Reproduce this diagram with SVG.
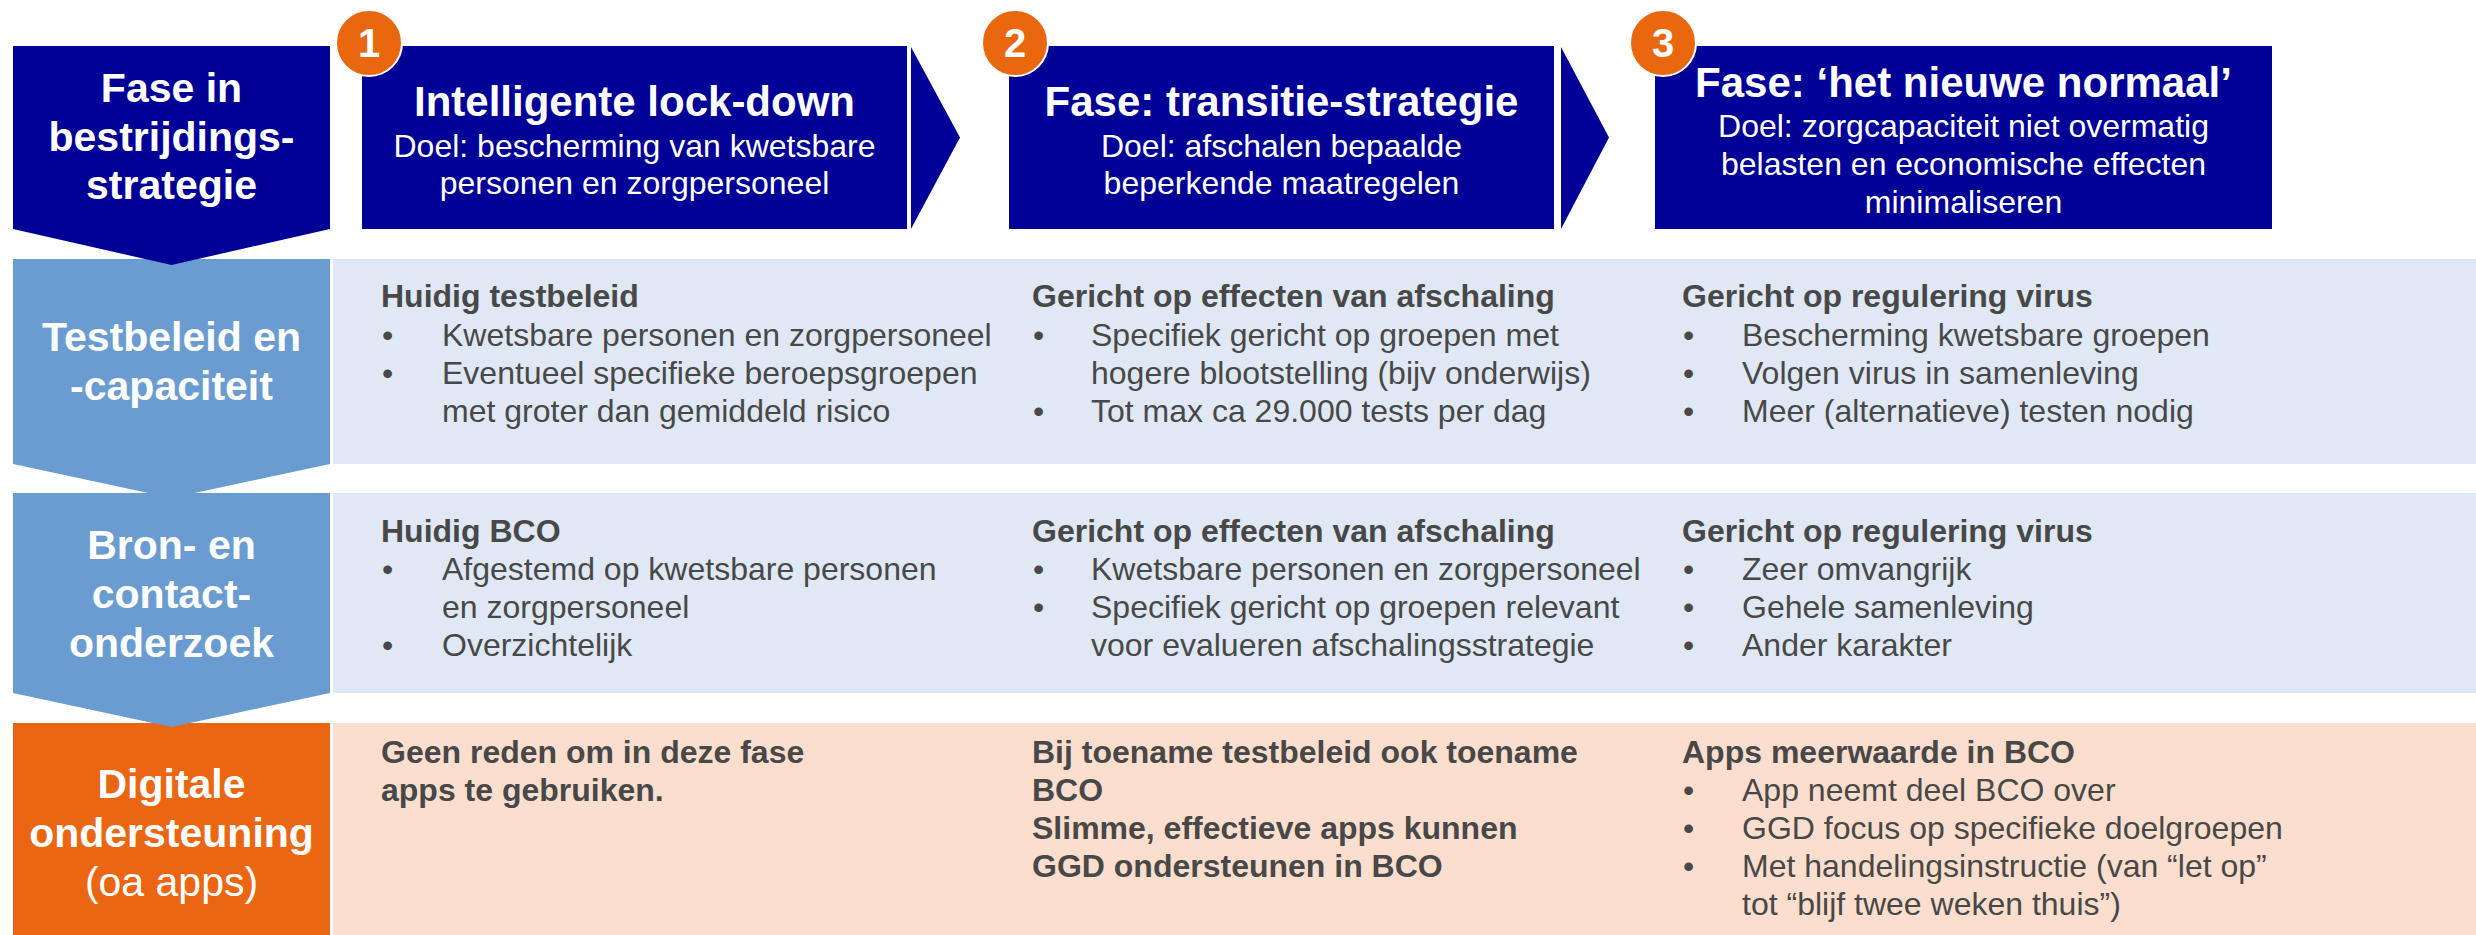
<svg xmlns="http://www.w3.org/2000/svg" width="2476" height="935" viewBox="0 0 2476 935">
<style>
.navy{fill:#000096}
.lab{fill:#6A9CD2}
.light{fill:#DFE8F4}
.org{fill:#EB6612}
.peach{fill:#FBDECD}
.circ{fill:#E8670F;stroke:#FFFFFF;stroke-width:2}
text{font-family:"Liberation Sans",Arial,sans-serif}
.lbl{fill:#FFFFFF;font-size:41px;font-weight:bold;text-anchor:middle}
.lblr{fill:#FFFFFF;font-size:41px;text-anchor:middle}
.num{fill:#FFFFFF;font-size:40px;font-weight:bold;text-anchor:middle}
.ttl{fill:#FFFFFF;font-size:42px;font-weight:bold;text-anchor:middle}
.sub{fill:#FFFFFF;font-size:32px;text-anchor:middle}
.h{fill:#484848;font-size:32px;font-weight:bold}
.t{fill:#484848;font-size:32px}
</style>
<rect width="2476" height="935" fill="#FFFFFF"/>

<!-- Row 1 -->
<g id="row-testbeleid">
<rect class="light" x="333" y="259" width="2143" height="205"/>
<polygon class="lab" points="13,259 330,259 330,464 171.5,498 13,464"/>
<text class="lbl" x="171.5" y="351">Testbeleid en</text>
<text class="lbl" x="171.5" y="400">-capaciteit</text>
<text class="h" x="381" y="307">Huidig testbeleid</text>
<text class="t" x="382" y="346">•</text><text class="t" x="442" y="346">Kwetsbare personen en zorgpersoneel</text>
<text class="t" x="382" y="384">•</text><text class="t" x="442" y="384">Eventueel specifieke beroepsgroepen</text>
<text class="t" x="442" y="422">met groter dan gemiddeld risico</text>
<text class="h" x="1032" y="307">Gericht op effecten van afschaling</text>
<text class="t" x="1033" y="346">•</text><text class="t" x="1091" y="346">Specifiek gericht op groepen met</text>
<text class="t" x="1091" y="384">hogere blootstelling (bijv onderwijs)</text>
<text class="t" x="1033" y="422">•</text><text class="t" x="1091" y="422">Tot max ca 29.000 tests per dag</text>
<text class="h" x="1682" y="307">Gericht op regulering virus</text>
<text class="t" x="1683" y="346">•</text><text class="t" x="1742" y="346">Bescherming kwetsbare groepen</text>
<text class="t" x="1683" y="384">•</text><text class="t" x="1742" y="384">Volgen virus in samenleving</text>
<text class="t" x="1683" y="422">•</text><text class="t" x="1742" y="422">Meer (alternatieve) testen nodig</text>
</g>

<!-- Row 3 -->
<g id="row-digitaal">
<rect class="peach" x="333" y="723" width="2143" height="212"/>
<rect class="org" x="13" y="723" width="317" height="212"/>
<text class="lbl" x="171.5" y="798">Digitale</text>
<text class="lbl" x="171.5" y="847">ondersteuning</text>
<text class="lblr" x="171.5" y="896">(oa apps)</text>
<text class="h" x="381" y="763">Geen reden om in deze fase</text>
<text class="h" x="381" y="801">apps te gebruiken.</text>
<text class="h" x="1032" y="763">Bij toename testbeleid ook toename</text>
<text class="h" x="1032" y="801">BCO</text>
<text class="h" x="1032" y="839">Slimme, effectieve apps kunnen</text>
<text class="h" x="1032" y="877">GGD ondersteunen in BCO</text>
<text class="h" x="1682" y="763">Apps meerwaarde in BCO</text>
<text class="t" x="1683" y="801">•</text><text class="t" x="1742" y="801">App neemt deel BCO over</text>
<text class="t" x="1683" y="839">•</text><text class="t" x="1742" y="839">GGD focus op specifieke doelgroepen</text>
<text class="t" x="1683" y="877">•</text><text class="t" x="1742" y="877">Met handelingsinstructie (van “let op”</text>
<text class="t" x="1742" y="915">tot “blijf twee weken thuis”)</text>
</g>

<!-- Row 2 -->
<g id="row-bco">
<rect class="light" x="333" y="493" width="2143" height="200"/>
<polygon class="lab" points="13,493 330,493 330,693 171.5,727 13,693"/>
<text class="lbl" x="171.5" y="559">Bron- en</text>
<text class="lbl" x="171.5" y="608">contact-</text>
<text class="lbl" x="171.5" y="657">onderzoek</text>
<text class="h" x="381" y="542">Huidig BCO</text>
<text class="t" x="382" y="580">•</text><text class="t" x="442" y="580">Afgestemd op kwetsbare personen</text>
<text class="t" x="442" y="618">en zorgpersoneel</text>
<text class="t" x="382" y="656">•</text><text class="t" x="442" y="656">Overzichtelijk</text>
<text class="h" x="1032" y="542">Gericht op effecten van afschaling</text>
<text class="t" x="1033" y="580">•</text><text class="t" x="1091" y="580">Kwetsbare personen en zorgpersoneel</text>
<text class="t" x="1033" y="618">•</text><text class="t" x="1091" y="618">Specifiek gericht op groepen relevant</text>
<text class="t" x="1091" y="656">voor evalueren afschalingsstrategie</text>
<text class="h" x="1682" y="542">Gericht op regulering virus</text>
<text class="t" x="1683" y="580">•</text><text class="t" x="1742" y="580">Zeer omvangrijk</text>
<text class="t" x="1683" y="618">•</text><text class="t" x="1742" y="618">Gehele samenleving</text>
<text class="t" x="1683" y="656">•</text><text class="t" x="1742" y="656">Ander karakter</text>
</g>

<!-- Header -->
<g id="fase-header">
<polygon class="navy" points="13,46 330,46 330,229 171.5,265 13,229"/>
<text class="lbl" x="171.5" y="102">Fase in</text>
<text class="lbl" x="171.5" y="151">bestrijdings-</text>
<text class="lbl" x="171.5" y="199">strategie</text>
</g>

<g id="connectors">
<polygon class="navy" points="911,47 960,137.5 911,229"/>
<polygon class="navy" points="1561,47 1609,137.5 1561,229"/>
</g>

<g id="fase-1">
<rect class="navy" x="362" y="46" width="545" height="183"/>
<text class="ttl" x="634.5" y="116">Intelligente lock-down</text>
<text class="sub" x="634.5" y="157">Doel: bescherming van kwetsbare</text>
<text class="sub" x="634.5" y="194">personen en zorgpersoneel</text>
<circle class="circ" cx="369" cy="43" r="33"/>
<text class="num" x="369" y="57">1</text>
</g>

<g id="fase-2">
<rect class="navy" x="1009" y="46" width="545" height="183"/>
<text class="ttl" x="1281.5" y="116">Fase: transitie-strategie</text>
<text class="sub" x="1281.5" y="157">Doel: afschalen bepaalde</text>
<text class="sub" x="1281.5" y="194">beperkende maatregelen</text>
<circle class="circ" cx="1015" cy="43" r="33"/>
<text class="num" x="1015" y="57">2</text>
</g>

<g id="fase-3">
<rect class="navy" x="1655" y="46" width="617" height="183"/>
<text class="ttl" x="1963.5" y="97">Fase: ‘het nieuwe normaal’</text>
<text class="sub" x="1963.5" y="137">Doel: zorgcapaciteit niet overmatig</text>
<text class="sub" x="1963.5" y="175">belasten en economische effecten</text>
<text class="sub" x="1963.5" y="213">minimaliseren</text>
<circle class="circ" cx="1663" cy="43" r="33"/>
<text class="num" x="1663" y="57">3</text>
</g>
</svg>
